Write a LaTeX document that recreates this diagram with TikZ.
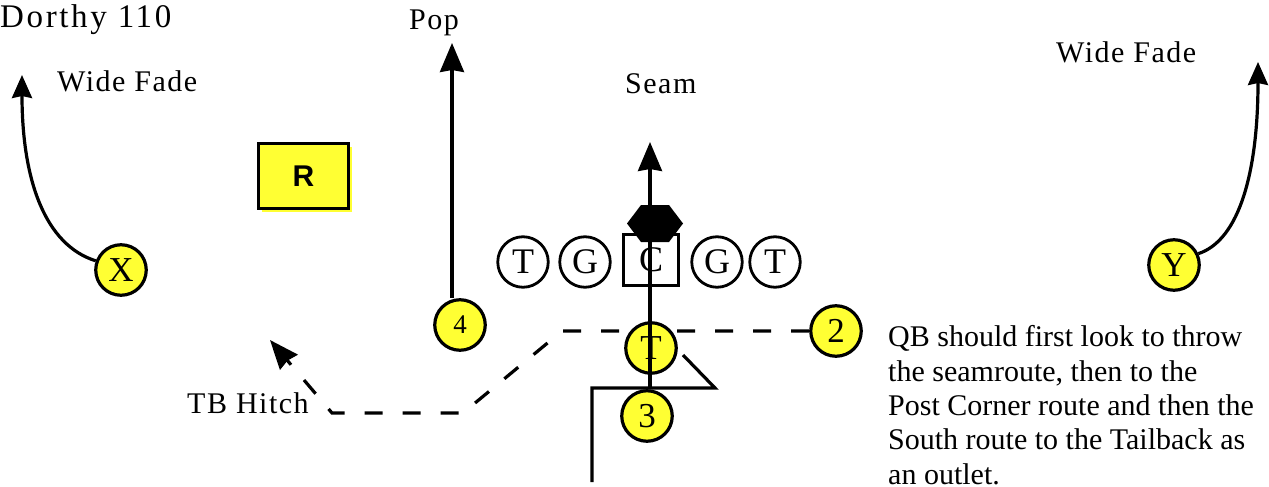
\documentclass[tikz,border=0pt]{standalone}
\usepackage{fontspec}
\setmainfont{Liberation Serif}
\newfontfamily\lsans{Liberation Sans}
\newfontfamily\trk[LetterSpace=5]{Liberation Serif}
\newfontfamily\trkt[LetterSpace=8]{Liberation Serif}
\usetikzlibrary{arrows.meta,shadows,backgrounds}
\definecolor{pyellow}{HTML}{FFFF33}
\begin{document}
\begin{tikzpicture}[x=1pt,y=-1pt,
 player/.style={circle,draw,line width=3.2pt,fill=pyellow,minimum size=50.5pt,inner sep=0pt,font=\fontsize{35}{35}\selectfont},
 lineman/.style={circle,draw,line width=2.8pt,fill=white,minimum size=50.5pt,inner sep=0pt,font=\fontsize{36}{36}\selectfont},
 txt/.style={anchor=base west,inner sep=0pt,font=\trk\fontsize{30}{30}\selectfont},
 route/.style={line width=3.2pt},
 bigarrow/.style={route,-{Stealth[length=29pt,width=24pt,inset=2pt]}},
 smallarrow/.style={route,-{Stealth[length=23pt,width=20pt,inset=2pt]}},
 dashedroute/.style={route,dash pattern=on 18pt off 20pt}]
\useasboundingbox (0,0) rectangle (1269,487);

% texts
\node[txt,font=\trkt\fontsize{33}{33}\selectfont] (title) at (0,28) {Dorthy 110};
\node[txt] (wfl) at (57,92) {Wide Fade};
\node[txt] (pop) at (409,30) {Pop};
\node[txt] (seam) at (625,93) {Seam};
\node[txt] (wfr) at (1056,63) {Wide Fade};
\node[txt] (tbh) at (187,413) {TB Hitch};
\node[anchor=north west,inner sep=0pt,align=left,font=\fontsize{30}{34.3}\selectfont] (qb) at (888,325.5)
 {QB should first look to throw\\the seamroute, then to the\\Post Corner route and then the\\South route to the Tailback as\\an outlet.};

% R box
\node[draw,line width=3pt,fill=pyellow,minimum width=90pt,minimum height=65pt,inner sep=0pt,
 font=\lsans\bfseries\fontsize{30}{30}\selectfont,
 drop shadow={fill=pyellow,opacity=1,shadow xshift=3pt,shadow yshift=-3pt}] (R) at (303.5,176) {R};

% line
\node[lineman] (lt) at (523,262) {T};
\node[lineman] (lg) at (585,262) {G};
\node[draw,line width=2.8pt,fill=white,minimum width=54.5pt,minimum height=51.5pt,inner sep=0pt,font=\fontsize{36}{36}\selectfont] (c) at (651,260) {C};
\node[lineman] (rg) at (717,262) {G};
\node[lineman] (rt) at (775,262) {T};
\fill (627,223.5) -- (641,205) -- (669,205) -- (683,223.5) -- (669,242) -- (641,242) -- cycle;

% players
\node[player] (X) at (121,270) {X};
\node[player] (Y) at (1174,265) {Y};
\node[player,font=\fontsize{27}{27}\selectfont] (n4) at (460,325) {4};
\node[player] (n2) at (836,331) {2};
\node[player] (n1) at (651,348) {T};
\node[player] (n3) at (647,416) {3};

% coordinates
\coordinate (wflTip) at (22,75);
\coordinate (wfrTip) at (1258,62);
\coordinate (popTip) at (452,43);
\coordinate (seamTip) at (650,142);
\coordinate (hitchTip) at (270,340);
\coordinate (h1) at (562,331);
\coordinate (h2) at (463,413);
\coordinate (h3) at (332,413);
\coordinate (r3a) at (592,482);
\coordinate (r3b) at (592,388);
\coordinate (r3c) at (715,388);
\coordinate (r3d) at (683,355);

\begin{scope}[on background layer]
\draw[dashedroute,-{Stealth[length=29pt,width=23pt,inset=2pt]}] (n2.west) -- (h1) -- (h2) -- (h3) -- (hitchTip);
\draw[route] (r3a) -- (r3b) -- (r3c) -- (r3d);
\end{scope}

\draw[smallarrow] (X.160) .. controls (45,245) and (22,180) .. (wflTip);
\draw[smallarrow] (Y.25) .. controls (1240,240) and (1258,170) .. (wfrTip);
\draw[bigarrow] (n4.north -| popTip) -- (popTip);
\draw[bigarrow] (n3.north -| seamTip) -- (seamTip);
\end{tikzpicture}
\end{document}
